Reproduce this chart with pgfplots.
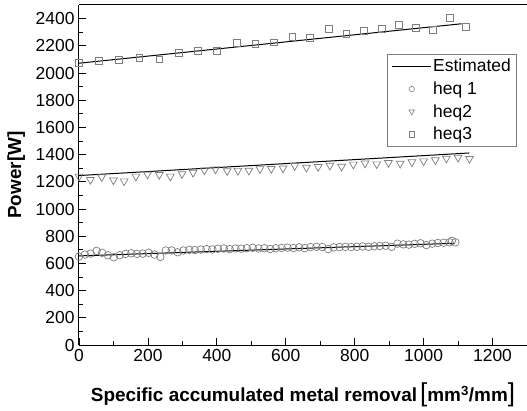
\documentclass[border=0pt]{standalone}
\usepackage{pgfplots}
\pgfplotsset{compat=1.18}
\usepackage{fontspec}
\setmainfont{Liberation Sans}
\definecolor{mk}{RGB}{125,125,125}
\pgfplotstableread{
x y
0 2075
58 2087
116 2099
175 2109
233 2101
289 2149
345 2160
401 2165
457 2224
512 2215
565 2225
619 2265
670 2259
724 2325
776 2288
826 2307
878 2325
927 2354
977 2332
1027 2320
1075 2405
1123 2342
}\heqthree
\pgfplotstableread{
x y
0 1240
33 1215
66 1235
100 1212
131 1205
165 1240
199 1255
233 1252
265 1240
299 1258
331 1268
364 1285
396 1292
430 1280
461 1282
493 1283
525 1295
558 1296
592 1300
626 1318
660 1305
694 1310
728 1320
762 1312
796 1328
830 1336
864 1330
898 1340
932 1335
966 1345
1000 1352
1034 1360
1066 1372
1100 1378
1133 1370
}\heqtwo
\pgfplotstableread{
x y
0 650
17 665
34 672
51 692
67 678
84 660
101 645
118 660
135 670
152 675
168 670
185 672
202 678
219 665
236 648
252 695
269 695
286 682
303 695
320 700
336 698
353 702
370 705
387 703
403 708
420 710
437 705
454 710
471 708
487 712
504 715
521 710
538 712
555 706
571 712
588 714
605 716
622 713
639 718
655 712
672 720
689 722
706 720
723 705
739 718
756 720
773 722
790 720
806 722
823 725
840 722
857 726
873 728
890 730
907 722
924 745
941 740
957 738
974 744
991 748
1008 735
1025 745
1041 750
1058 752
1075 755
1082 765
1092 755
}\heqone
\begin{document}
\begin{tikzpicture}
\begin{axis}[
  name=ax,
  scale only axis,
  width=448bp, height=340bp,
  xmin=0, xmax=1300, ymin=0, ymax=2500,
  axis x line*=bottom, axis y line*=left,
  axis line style={-, line width=1bp, black},
  xtick={0,200,...,1200},
  ytick={0,200,...,2400},
  minor x tick num=1, minor y tick num=1,
  tick align=inside,
  major tick length=7bp, minor tick length=4bp,
  tick style={black, line width=0.8bp},
  /pgf/number format/assume math mode=true,
  /pgf/number format/1000 sep={},
  ticklabel style={font=\fontsize{17.5}{19}\selectfont},
  xticklabel style={yshift=-1bp},
  yticklabel style={xshift=-1bp},
  xlabel={\textbf{Specific accumulated metal removal}\,{\fontsize{26}{26}\selectfont[}\textbf{mm\textsuperscript{3}/mm}{\fontsize{26}{26}\selectfont]}},
  xlabel style={at={(axis description cs:0.5,-0.147)}, anchor=center, font=\fontsize{19}{22}\selectfont},
  ylabel={\textbf{Power[W]}},
  ylabel style={at={(axis description cs:-0.14,0.5)}, anchor=center, font=\fontsize{19}{22}\selectfont},
  legend style={at={(axis description cs:0.978,0.856)}, anchor=north east,
    draw=mk, line width=0.8bp, font=\fontsize{17.5}{19}\selectfont,
    row sep=4.5bp, inner xsep=4bp, inner ysep=3bp, cells={anchor=west}},
  legend cell align=left,
]
\addplot[black, line width=1bp, legend image code/.code={\draw[black, line width=1bp] (0bp,0bp) -- (39bp,0bp);}] coordinates {(0,655) (1090,748)};
\addlegendentry{Estimated}
\addplot[black, line width=1bp, forget plot] coordinates {(0,1246) (1133,1412)};
\addplot[black, line width=1bp, forget plot] coordinates {(0,2072) (1110,2362)};
\addplot[only marks, mark=o, mark size=3.8bp, mark options={draw=mk, fill=white, line width=0.7bp},
  legend image code/.code={\draw[mark=o, mark size=2.7bp, mark options={draw=mk, fill=white, line width=0.6bp}] plot coordinates {(20bp,0bp)};}] table {\heqone};
\addlegendentry{heq 1}
\addplot[only marks, mark=triangle, mark size=4.5bp, mark options={draw=mk, fill=white, line width=0.7bp, rotate=180},
  legend image code/.code={\draw[mark=triangle, mark size=3.2bp, mark options={draw=mk, fill=white, line width=0.6bp, rotate=180}] plot coordinates {(20bp,0bp)};}] table {\heqtwo};
\addlegendentry{heq2}
\addplot[only marks, mark=square, mark size=3.4bp, mark options={draw=mk, fill=white, line width=0.7bp},
  legend image code/.code={\draw[mark=square, mark size=2.6bp, mark options={draw=mk, fill=white, line width=0.6bp}] plot coordinates {(20bp,0bp)};}] table {\heqthree};
\addlegendentry{heq3}
\end{axis}
\draw[line width=1bp] (ax.north west) -- (ax.north east);
\pgfresetboundingbox
\path[use as bounding box] ([xshift=-79bp,yshift=-66bp]ax.south west) rectangle ([yshift=5bp]ax.north east);
\end{tikzpicture}
\end{document}
